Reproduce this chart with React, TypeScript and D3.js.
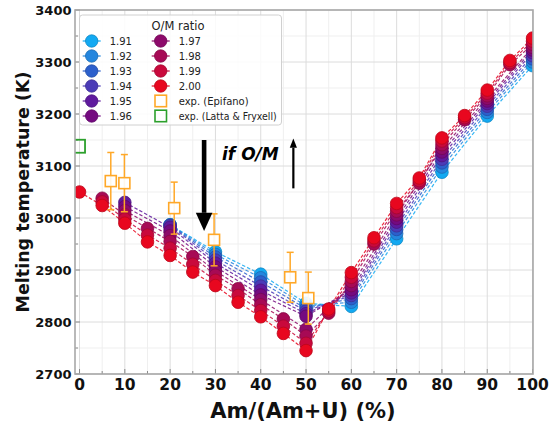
import React from 'react';
import * as d3 from 'd3';

const W = 549;
const H = 425;

const omLabels = ['1.91', '1.92', '1.93', '1.94', '1.95', '1.96', '1.97', '1.98', '1.99', '2.00'];
const omColors = ['#12a9f2', '#2486de', '#2c60cc', '#4b3bb7', '#5f1a9e', '#740a80', '#8d0a6b', '#a70a55', '#c9093c', '#e8071f'];

const amAll = [0, 5, 10, 15, 20, 25, 30, 35, 40, 45, 50, 55, 60, 65, 70, 75, 80, 85, 90, 95, 100];
const N = null;
const t191 = [N, N, N, N, 2987, N, 2935, N, 2892, N, 2836, N, 2830, N, 2960, N, 3088, N, 3196, N, 3293];
const t192 = [N, N, N, N, 2987, N, 2930, N, 2885, N, 2831, N, 2838, N, 2970, N, 3098, N, 3203, N, 3300];
const t193 = [N, N, N, N, 2986, N, 2925, N, 2877, N, 2826, N, 2845, N, 2978, N, 3106, N, 3209, N, 3306];
const t194 = [N, N, N, N, 2985, N, 2919, N, 2869, N, 2821, N, 2851, N, 2985, N, 3113, N, 3215, N, 3312];
const t195 = [N, N, 3030, N, 2982, N, 2913, N, 2861, N, 2816, N, 2856, N, 2992, N, 3120, N, 3220, N, 3318];
const t196 = [N, N, 3022, N, 2975, N, 2906, N, 2852, N, 2811, N, 2862, N, 2999, N, 3127, N, 3225, N, 3323];
const t197 = [N, N, 3014, N, 2966, N, 2898, N, 2843, N, 2786, N, 2870, N, 3006, N, 3134, N, 3230, N, 3328];
const t198 = [N, 3038, 3006, 2980, 2955, 2926, 2890, 2864, 2833, 2806, 2773, 2817, 2878, 2950, 3013, 3067, 3141, 3189, 3235, 3295, 3334];
const t199 = [N, 3031, 2998, 2967, 2942, 2911, 2880, 2851, 2822, 2792, 2759, 2821, 2886, 2956, 3020, 3072, 3148, 3193, 3240, 3299, 3340];
const t200 = [3050, 3024, 2990, 2954, 2928, 2896, 2870, 2838, 2810, 2778, 2745, 2825, 2895, 2962, 3028, 3077, 3154, 3197, 3246, 3303, 3346];
const seriesT = [t191, t192, t193, t194, t195, t196, t197, t198, t199, t200];

const epiAm = [6.9, 9.9, 20.9, 29.7, 46.5, 50.5];
const epiT = [3071, 3067, 3019, 2958, 2886, 2846];
const epiErr = [55, 55, 50, 50, 48, 50];
const lattaAm = [0];
const lattaT = [3138];

const xMajor = [0, 10, 20, 30, 40, 50, 60, 70, 80, 90, 100];
const xMinor = [5, 15, 25, 35, 45, 55, 65, 75, 85, 95];
const yMajor = [2700, 2800, 2900, 3000, 3100, 3200, 3300, 3400];
const yMinor = [2750, 2850, 2950, 3050, 3150, 3250, 3350];

const FONT = 'DejaVu Sans, Verdana, sans-serif';
const ORANGE = '#ffa828';
const GREEN = '#2ca02c';

export default function App() {
  const L = 75, R = 533, T = 10, B = 374;
  const x = d3.scaleLinear().domain([-1, 100.1]).range([L, R]);
  const y = d3.scaleLinear().domain([2700, 3400]).range([B, T]);

  const line = d3.line<[number, number]>().x(d => x(d[0])).y(d => y(d[1]));

  const pts = seriesT.map(ts =>
    amAll.map((a, i) => [a, ts[i]] as [number, number | null]).filter(p => p[1] !== null) as [number, number][]
  );

  // annotation positions (data coords)
  const downX = 27.5, downTop = 3150, downHeadStart = 3010, downTip = 2975;
  const upX = 47.2, upBottom = 3057, upTip = 3153, upHeadStart = 3135;

  const legRowY = [41, 56, 71, 86, 101, 116];

  return (
    <div style={{ position: 'absolute', left: 0, top: 0 }}>
      <svg width={W} height={H} style={{ display: 'block', background: '#fff' }} fontFamily={FONT}>
        <defs>
          <clipPath id="plotclip">
            <rect x={L} y={T} width={R - L} height={B - T} />
          </clipPath>
        </defs>
        {/* grid */}
        {xMinor.map(v => <line key={'xm' + v} x1={x(v)} x2={x(v)} y1={T} y2={B} stroke="#efefef" strokeWidth={1} />)}
        {yMinor.map(v => <line key={'ym' + v} y1={y(v)} y2={y(v)} x1={L} x2={R} stroke="#efefef" strokeWidth={1} />)}
        {xMajor.map(v => <line key={'xg' + v} x1={x(v)} x2={x(v)} y1={T} y2={B} stroke="#dcdcdc" strokeWidth={1} />)}
        {yMajor.map(v => <line key={'yg' + v} y1={y(v)} y2={y(v)} x1={L} x2={R} stroke="#dcdcdc" strokeWidth={1} />)}

        {/* ticks inward */}
        {xMajor.map(v => <line key={'xt' + v} x1={x(v)} x2={x(v)} y1={B} y2={B - 5} stroke="#888" strokeWidth={1} />)}
        {xMinor.map(v => <line key={'xtm' + v} x1={x(v)} x2={x(v)} y1={B} y2={B - 3} stroke="#888" strokeWidth={1} />)}
        {yMajor.map(v => <line key={'yt' + v} y1={y(v)} y2={y(v)} x1={L} x2={L + 5} stroke="#888" strokeWidth={1} />)}
        {yMinor.map(v => <line key={'ytm' + v} y1={y(v)} y2={y(v)} x1={L} x2={L + 3} stroke="#888" strokeWidth={1} />)}

        <g clipPath="url(#plotclip)">
          {/* dashed lines */}
          {pts.map((p, i) => (
            <path key={'l' + i} d={line(p) || ''} fill="none" stroke={omColors[i]} strokeWidth={1.2}
              strokeDasharray="3.5,2" opacity={0.85} />
          ))}
          {/* markers */}
          {pts.map((p, i) => (
            <g key={'m' + i}>
              {p.map(d => (
                <circle key={d[0]} cx={x(d[0])} cy={y(d[1])} r={6.3} fill={omColors[i]}
                  stroke={d3.color(omColors[i])!.darker(0.6).formatHex()} strokeWidth={0.8} />
              ))}
            </g>
          ))}
          {/* Epifano error bars and squares */}
          {epiAm.map((a, i) => (
            <g key={'e' + i}>
              <line x1={x(a)} x2={x(a)} y1={y(epiT[i] + epiErr[i])} y2={y(epiT[i] - epiErr[i])} stroke={ORANGE} strokeWidth={1.5} />
              <line x1={x(a) - 3.5} x2={x(a) + 3.5} y1={y(epiT[i] + epiErr[i])} y2={y(epiT[i] + epiErr[i])} stroke={ORANGE} strokeWidth={1.5} />
              <line x1={x(a) - 3.5} x2={x(a) + 3.5} y1={y(epiT[i] - epiErr[i])} y2={y(epiT[i] - epiErr[i])} stroke={ORANGE} strokeWidth={1.5} />
              <rect x={x(a) - 5.5} y={y(epiT[i]) - 5.5} width={11} height={11} fill="#fff" fillOpacity={0.9} stroke={ORANGE} strokeWidth={1.6} />
            </g>
          ))}
          {lattaAm.map((a, i) => (
            <rect key={'lt' + i} x={x(a) - 5.5} y={y(lattaT[i]) - 6.5} width={11} height={13} fill="none" stroke={GREEN} strokeWidth={1.8} />
          ))}
        </g>

        {/* spines */}
        <rect x={L} y={T} width={R - L} height={B - T} fill="none" stroke="#a8a8a8" strokeWidth={1.6} />

        {/* tick labels */}
        {yMajor.map(v => (
          <text key={'yl' + v} x={L - 3.5} y={y(v) + 4.6} textAnchor="end" fontSize={13} fontWeight="bold" fill="#111">{v}</text>
        ))}
        {xMajor.map(v => (
          <text key={'xl' + v} x={x(v)} y={390} textAnchor="middle" fontSize={15.5} fontWeight="bold" fill="#111">{v}</text>
        ))}

        {/* axis titles */}
        <text x={303} y={418} textAnchor="middle" fontSize={21} fontWeight="bold" fill="#111">Am/(Am+U) (%)</text>
        <text transform={`translate(29,192) rotate(-90)`} textAnchor="middle" fontSize={17.5} fontWeight="bold" fill="#111">Melting temperature (K)</text>

        {/* annotations */}
        <rect x={x(downX) - 2.3} y={y(downTop)} width={4.6} height={y(downHeadStart) - y(downTop)} fill="#000" />
        <polygon points={`${x(downX) - 8.3},${y(downHeadStart)} ${x(downX) + 8.3},${y(downHeadStart)} ${x(downX)},${y(downTip)}`} fill="#000" />
        <text x={222} y={160} fontSize={17} fontWeight="bold" fontStyle="italic" fill="#000">if O/M</text>
        <rect x={x(upX) - 1.1} y={y(upHeadStart)} width={2.2} height={y(upBottom) - y(upHeadStart)} fill="#000" />
        <polygon points={`${x(upX) - 3.6},${y(upHeadStart)} ${x(upX) + 3.6},${y(upHeadStart)} ${x(upX)},${y(upTip)}`} fill="#000" />

        {/* legend */}
        <rect x={79.5} y={15} width={202} height={110} rx={3} fill="#fff" fillOpacity={0.85} stroke="#d0d0d0" strokeWidth={1} />
        <text x={178} y={29.5} textAnchor="middle" fontSize={11.5} fill="#222">O/M ratio</text>
        {omLabels.map((lab, i) => {
          const col = i < 6 ? 0 : 1;
          const row = i < 6 ? i : i - 6;
          const mx = col === 0 ? 91.7 : 160.7;
          const ly = legRowY[row];
          return (
            <g key={'lg' + i}>
              <line x1={mx - 9} x2={mx + 9} y1={ly} y2={ly} stroke={omColors[i]} strokeWidth={1.2} />
              <circle cx={mx} cy={ly} r={6.2} fill={omColors[i]} stroke={d3.color(omColors[i])!.darker(0.6).formatHex()} strokeWidth={0.8} />
              <text x={mx + 18} y={ly + 3.8} fontSize={10} fill="#222">{lab}</text>
            </g>
          );
        })}
        <rect x={155} y={legRowY[4] - 5.8} width={11.5} height={11.5} fill="none" stroke={ORANGE} strokeWidth={1.6} />
        <text x={178.7} y={legRowY[4] + 3.8} fontSize={10} fill="#222">exp. (Epifano)</text>
        <rect x={155} y={legRowY[5] - 5.8} width={11.5} height={11.5} fill="none" stroke={GREEN} strokeWidth={1.6} />
        <text x={178.7} y={legRowY[5] + 3.8} fontSize={10} textLength={98} lengthAdjust="spacingAndGlyphs" fill="#222">exp. (Latta &amp; Fryxell)</text>
      </svg>
    </div>
  );
}
